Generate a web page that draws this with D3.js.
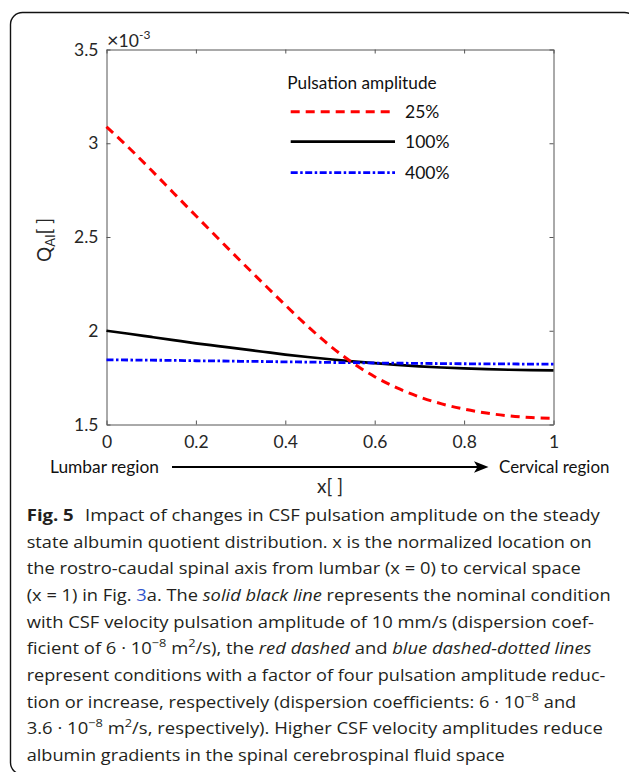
<!DOCTYPE html>
<html><head><meta charset="utf-8">
<script src="https://cdn.jsdelivr.net/npm/d3@7"></script>
<style>body{margin:0;background:#fff}svg{display:block}</style>
</head><body>
<svg id="c" width="629" height="772"></svg>
<script>
// ---- data (Q_AI in units of 1e-3) ----
const xPos = [0,0.05,0.1,0.15,0.2,0.25,0.3,0.35,0.4,0.45,0.5,0.55,0.6,0.65,0.7,0.75,0.8,0.85,0.9,0.95,1];
const amp25  = [3.088,2.976,2.857,2.735,2.613,2.492,2.372,2.254,2.137,2.024,1.920,1.830,1.755,1.695,1.647,1.610,1.582,1.561,1.546,1.537,1.533];
const amp100 = [2.000,1.984,1.967,1.950,1.933,1.918,1.903,1.888,1.873,1.860,1.848,1.837,1.827,1.818,1.810,1.804,1.799,1.795,1.792,1.790,1.789];
const amp400 = [1.845,1.844,1.843,1.842,1.840,1.839,1.837,1.836,1.834,1.833,1.831,1.830,1.828,1.827,1.826,1.825,1.824,1.823,1.823,1.822,1.822];
const seriesNames = ["25%","100%","400%"];
const xTicks = [0,0.2,0.4,0.6,0.8,1];
const xTickLabels = ["0","0.2","0.4","0.6","0.8","1"];
const yTicks = [1.5,2,2.5,3,3.5];
const yTickLabels = ["1.5","2","2.5","3","3.5"];
const legendTitle = "Pulsation amplitude";
const captionLines = [
  [["Fig. 5","b"],["Impact of changes in CSF pulsation amplitude on the steady","gap"]],
  [["state albumin quotient distribution. x is the normalized location on"]],
  [["the rostro-caudal spinal axis from lumbar (x = 0) to cervical space"]],
  [["(x = 1) in Fig. "],["3","blue"],["a. The "],["solid black line","i"],[" represents the nominal condition"]],
  [["with CSF velocity pulsation amplitude of 10 mm/s (dispersion coef-"]],
  [["ficient of 6 · 10"],["−8","sup"],[" m"],["2","sup"],["/s), the "],["red dashed","i"],[" and "],["blue dashed-dotted lines","i"]],
  [["represent conditions with a factor of four pulsation amplitude reduc-"]],
  [["tion or increase, respectively (dispersion coefficients: 6 · 10"],["−8","sup"],[" and"]],
  [["3.6 · 10"],["−8","sup"],[" m"],["2","sup"],["/s, respectively). Higher CSF velocity amplitudes reduce"]],
  [["albumin gradients in the spinal cerebrospinal fluid space"]]
];
const captionEnds = [601,592,581,611,594,592,606,577,603,505];

// ---- drawing ----
const svg = d3.select("#c");
const TXT = "#262626";
const chartFont = "Lato, 'Open Sans', sans-serif";
const FS = 17.5;

svg.append("rect").attr("x",10.5).attr("y",12.5).attr("width",626).attr("height",762)
  .attr("rx",12).attr("fill","none").attr("stroke","#111").attr("stroke-width",1.4);

const x = d3.scaleLinear().domain([0,1]).range([106.5,553.5]);
const y = d3.scaleLinear().domain([1.5,3.5]).range([424.5,49.5]);

function styleAxis(g){
  g.select(".domain").attr("stroke","#555").attr("stroke-width",1);
  g.selectAll(".tick line").attr("stroke","#555");
  g.selectAll("text").attr("font-family",chartFont).attr("font-size",FS).attr("fill",TXT);
}
svg.append("g").attr("transform",`translate(0,${y(1.5)})`)
  .call(d3.axisBottom(x).tickValues(xTicks).tickFormat((d,i)=>xTickLabels[i]).tickSizeInner(-4).tickSizeOuter(0).tickPadding(11))
  .call(styleAxis);
svg.append("g").attr("transform",`translate(0,${y(3.5)})`)
  .call(d3.axisTop(x).tickValues(xTicks).tickFormat("").tickSizeInner(-4).tickSizeOuter(0))
  .call(styleAxis);
svg.append("g").attr("transform",`translate(${x(0)},0)`)
  .call(d3.axisLeft(y).tickValues(yTicks).tickFormat((d,i)=>yTickLabels[i]).tickSizeInner(-4).tickSizeOuter(0).tickPadding(8))
  .call(styleAxis);
svg.append("g").attr("transform",`translate(${x(1)},0)`)
  .call(d3.axisRight(y).tickValues(yTicks).tickFormat("").tickSizeInner(-4).tickSizeOuter(0))
  .call(styleAxis);

// exponent
const ex = svg.append("text").attr("x",107).attr("y",46.5).attr("font-family",chartFont).attr("font-size",FS).attr("fill",TXT);
ex.append("tspan").attr("font-size",20).text("×");
ex.append("tspan").text("10");
ex.append("tspan").attr("dy",-8).attr("font-size",12).text("-3");

// series
const series = [
  {name:seriesNames[0], vals:amp25,  color:"#ff0000", w:3,   dash:"9,6"},
  {name:seriesNames[1], vals:amp100, color:"#000000", w:2.7, dash:null},
  {name:seriesNames[2], vals:amp400, color:"#0000ff", w:2.8, dash:"7,2.5,2.5,2.5"}
];
const line = d3.line().x((d,i)=>x(xPos[i])).y(d=>y(d)).curve(d3.curveMonotoneX);
[series[1],series[2],series[0]].forEach(s=>{
  svg.append("path").attr("d",line(s.vals)).attr("fill","none").attr("stroke",s.color)
    .attr("stroke-width",s.w).attr("stroke-dasharray",s.dash);
});

// legend
function fitText(sel, x0, x1){
  const w = sel.node().getBBox().width;
  const k = (x1-x0)/w;
  const ty = sel.attr("data-y");
  sel.attr("x",0).attr("transform",`translate(${x0},${ty}) scale(${k},1)`);
}
const lt = svg.append("text").attr("data-y",88.5).attr("font-family",chartFont).attr("font-size",FS).attr("fill","#111").text(legendTitle);
fitText(lt,287.3,436.7);
const legY = [111.7,141.7,172.7];
series.forEach((s,i)=>{
  svg.append("line").attr("x1",290.7).attr("x2",395).attr("y1",legY[i]).attr("y2",legY[i])
    .attr("stroke",s.color).attr("stroke-width",s.w).attr("stroke-dasharray",s.dash);
  svg.append("text").attr("x",405).attr("y",legY[i]).attr("dy","0.36em").attr("font-family",chartFont)
    .attr("font-size",FS).attr("fill","#111").text(s.name);
});

// y label
const yl = svg.append("text").attr("transform","translate(51,240) rotate(-90)").attr("text-anchor","middle")
  .attr("font-family",chartFont).attr("font-size",19).attr("fill",TXT);
yl.append("tspan").text("Q");
yl.append("tspan").attr("font-size",13).attr("dy",4).text("AI");
yl.append("tspan").attr("dy",-4).text("[ ]");

// region annotation
const lr = svg.append("text").attr("data-y",473).attr("font-family",chartFont).attr("font-size",FS).attr("fill","#111").text("Lumbar region");
fitText(lr,50,159);
const cr = svg.append("text").attr("data-y",473).attr("font-family",chartFont).attr("font-size",FS).attr("fill","#111").text("Cervical region");
fitText(cr,499,609.5);
svg.append("line").attr("x1",172).attr("x2",480).attr("y1",467).attr("y2",467).attr("stroke","#000").attr("stroke-width",2);
svg.append("path").attr("d","M488.5,467 L474,461.3 L477.5,467 L474,472.7 Z").attr("fill","#000");
svg.append("text").attr("x",x(0.5)).attr("y",493).attr("text-anchor","middle").attr("font-family",chartFont)
  .attr("font-size",19).attr("fill",TXT).text("x[ ]");

// caption
const capFont = "'Open Sans', 'Noto Sans', sans-serif";
captionLines.forEach((segs,li)=>{
  const base = 521 + li*26.65;
  const t = svg.append("text").attr("data-y",base).attr("font-family",capFont).attr("font-size",16.5).attr("fill","#231f20");
  segs.forEach(([str,st])=>{
    const sp = t.append("tspan").text(str);
    if(st==="b") sp.attr("font-weight","bold");
    if(st==="gap") sp.attr("dx",10);
    if(st==="i") sp.attr("font-style","italic");
    if(st==="blue") sp.attr("fill","#3355cc");
    if(st==="sup"){ sp.attr("font-size",11.5).attr("dy",-7); }
  });
  t.selectAll("tspan").each(function(d,i,nodes){
    const prev = nodes[i-1];
    if(prev && prev.getAttribute("dy")==="-7" && this.getAttribute("dy")===null) this.setAttribute("dy",7);
  });
  fitText(t,26.7,captionEnds[li]);
});
</script>
</body></html>
